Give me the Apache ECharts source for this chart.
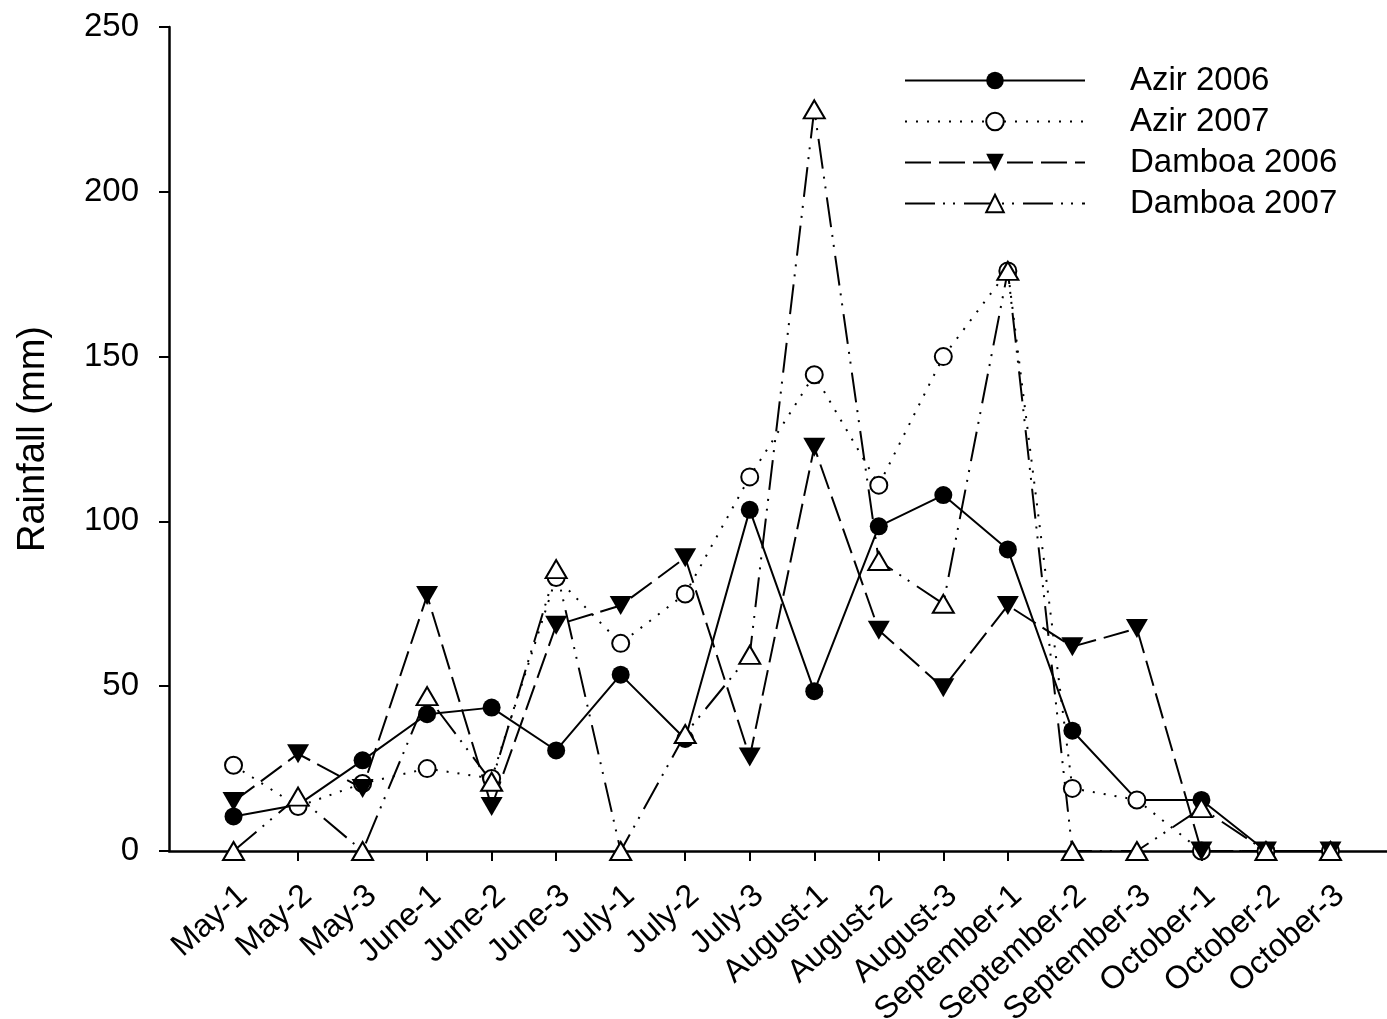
<!DOCTYPE html>
<html>
<head>
<meta charset="utf-8">
<script src="https://cdn.jsdelivr.net/npm/echarts@6/dist/echarts.min.js"></script>
<style>html,body{margin:0;padding:0;background:#fff}#c{width:1387px;height:1019px}</style>
</head>
<body>
<div id="c"></div>
<script>
const categories = ['May-1','May-2','May-3','June-1','June-2','June-3','July-1','July-2','July-3','August-1','August-2','August-3','September-1','September-2','September-3','October-1','October-2','October-3'];
const azir2006 = [10.5, 14, 27.5, 41.5, 43.5, 30.5, 53.5, 34, 103.5, 48.5, 98.5, 108, 91.5, 36.5, 15.5, 15.5, 0, 0];
const azir2007 = [26, 13.5, 20.5, 25, 22, 83, 63, 78, 113.5, 144.5, 111, 150, 176, 19, 15.5, 0, 0, 0];
const damboa2006 = [15, 29.5, 19, 77.5, 13.5, 68.5, 74.5, 89, 28.5, 122.5, 67, 49.5, 74.5, 62, 67.5, 0, 0, 0];
const damboa2007 = [0, 16.5, 0, 47, 21, 85.5, 0, 35.5, 59.5, 225, 88, 75, 176, 0, 0, 13, 0, 0];
const yTicks = [0, 50, 100, 150, 200, 250];

const FONT = "'Liberation Sans', Arial, sans-serif";
const axisCats = [''].concat(categories, ['']);
const toPairs = arr => arr.map((v, i) => [i + 1, v]);

const chart = echarts.init(document.getElementById('c'), null, {renderer: 'canvas'});
chart.setOption({
  animation: false,
  backgroundColor: '#fff',
  grid: {left: 169, right: -8, top: 27, bottom: 168, containLabel: false, outerBoundsMode: 'none'},
  legend: {
    orient: 'vertical',
    left: 899,
    top: 59,
    itemWidth: 180,
    itemHeight: 22,
    itemGap: 8,
    textStyle: {fontFamily: FONT, fontSize: 33, color: '#000', padding: [0, 0, 0, 40]},
    data: ['Azir 2006', 'Azir 2007', 'Damboa 2006', 'Damboa 2007']
  },
  xAxis: {
    type: 'category',
    data: axisCats,
    boundaryGap: false,
    axisLine: {lineStyle: {color: '#000', width: 2.5}},
    axisTick: {show: true, length: 10, inside: false, lineStyle: {color: '#000', width: 2},
      interval: (idx) => idx > 0 && idx < axisCats.length - 1},
    axisLabel: {interval: 0, rotate: 42, margin: 30, align: 'right', verticalAlign: 'top', lineHeight: 28,
      fontFamily: FONT, fontSize: 32, color: '#000'},
    splitLine: {show: false}
  },
  yAxis: {
    type: 'value',
    min: 0, max: 250, interval: 50,
    name: 'Rainfall (mm)',
    nameLocation: 'middle',
    nameRotate: 90,
    nameGap: 116,
    nameTextStyle: {fontFamily: FONT, fontSize: 38, color: '#000'},
    axisLine: {show: true, lineStyle: {color: '#000', width: 2.5}},
    axisTick: {show: true, length: 10, lineStyle: {color: '#000', width: 2}},
    axisLabel: {margin: 30, fontFamily: FONT, fontSize: 33, color: '#000',
      formatter: v => yTicks.includes(v) ? String(v) : ''},
    splitLine: {show: false}
  },
  series: [
    {
      name: 'Azir 2006', type: 'line', data: toPairs(azir2006),
      symbol: 'circle', symbolSize: 18,
      lineStyle: {color: '#000', width: 2, type: 'solid'},
      itemStyle: {color: '#000', borderColor: '#000', borderWidth: 0}
    },
    {
      name: 'Azir 2007', type: 'line', data: toPairs(azir2007),
      symbol: 'circle', symbolSize: 17,
      lineStyle: {color: '#000', width: 2, type: [2, 9]},
      itemStyle: {color: '#fff', borderColor: '#000', borderWidth: 2}
    },
    {
      name: 'Damboa 2006', type: 'line', data: toPairs(damboa2006),
      symbol: 'triangle', symbolRotate: 180, symbolSize: [22, 19],
      lineStyle: {color: '#000', width: 2, type: [26, 8]},
      itemStyle: {color: '#000', borderColor: '#000', borderWidth: 0}
    },
    {
      name: 'Damboa 2007', type: 'line', data: toPairs(damboa2007),
      symbol: 'triangle', symbolSize: [21, 18],
      lineStyle: {color: '#000', width: 2, type: [30, 8, 2, 8, 2, 9]},
      itemStyle: {color: '#fff', borderColor: '#000', borderWidth: 2}
    }
  ]
});
</script>
</body>
</html>
